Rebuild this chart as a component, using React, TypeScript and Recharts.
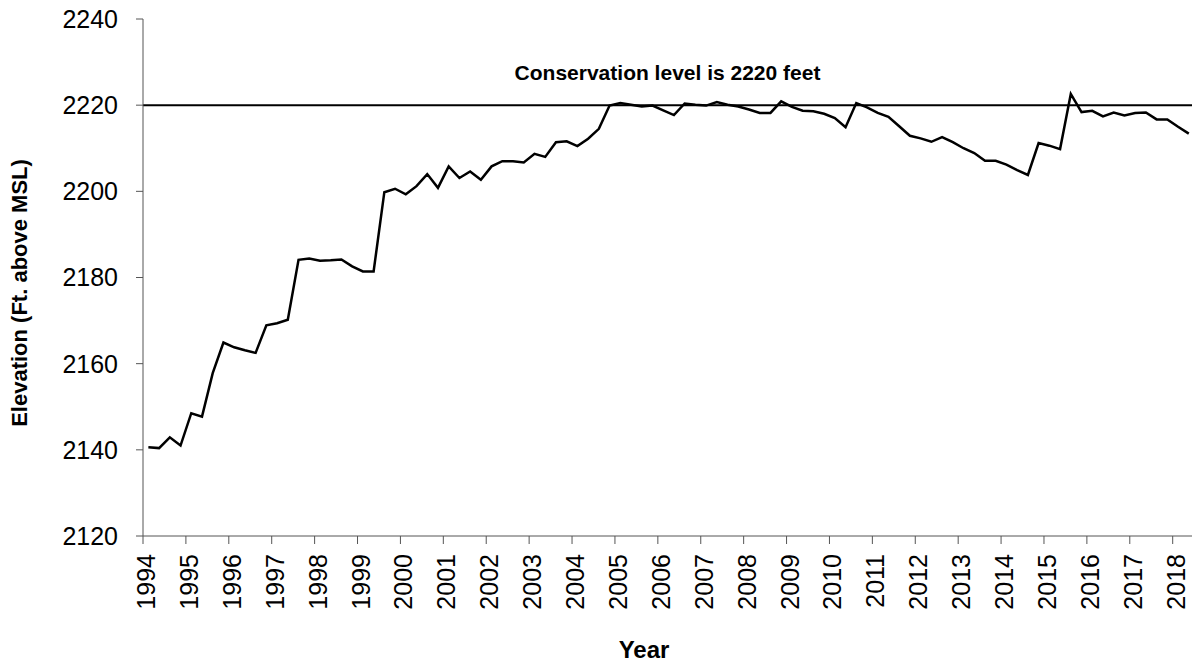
import { LineChart, Line, XAxis, YAxis, ReferenceLine, Label } from "recharts";

// quarterly readings (sample month), Feb 1994 .. May 2018
const sampleMonths = [
  "1994-02", "1994-05", "1994-08", "1994-11",
  "1995-02", "1995-05", "1995-08", "1995-11",
  "1996-02", "1996-05", "1996-08", "1996-11",
  "1997-02", "1997-05", "1997-08", "1997-11",
  "1998-02", "1998-05", "1998-08", "1998-11",
  "1999-02", "1999-05", "1999-08", "1999-11",
  "2000-02", "2000-05", "2000-08", "2000-11",
  "2001-02", "2001-05", "2001-08", "2001-11",
  "2002-02", "2002-05", "2002-08", "2002-11",
  "2003-02", "2003-05", "2003-08", "2003-11",
  "2004-02", "2004-05", "2004-08", "2004-11",
  "2005-02", "2005-05", "2005-08", "2005-11",
  "2006-02", "2006-05", "2006-08", "2006-11",
  "2007-02", "2007-05", "2007-08", "2007-11",
  "2008-02", "2008-05", "2008-08", "2008-11",
  "2009-02", "2009-05", "2009-08", "2009-11",
  "2010-02", "2010-05", "2010-08", "2010-11",
  "2011-02", "2011-05", "2011-08", "2011-11",
  "2012-02", "2012-05", "2012-08", "2012-11",
  "2013-02", "2013-05", "2013-08", "2013-11",
  "2014-02", "2014-05", "2014-08", "2014-11",
  "2015-02", "2015-05", "2015-08", "2015-11",
  "2016-02", "2016-05", "2016-08", "2016-11",
  "2017-02", "2017-05", "2017-08", "2017-11",
  "2018-02", "2018-05",
];

const elevation = [
  2140.6, 2140.4, 2142.9, 2141.0,
  2148.5, 2147.7, 2157.8, 2164.9,
  2163.8, 2163.1, 2162.5, 2168.9,
  2169.4, 2170.2, 2184.1, 2184.4,
  2183.9, 2184.0, 2184.2, 2182.6,
  2181.4, 2181.4, 2199.8, 2200.6,
  2199.3, 2201.2, 2204.0, 2200.8,
  2205.8, 2203.1, 2204.6, 2202.7,
  2205.8, 2207.0, 2207.0, 2206.7,
  2208.7, 2208.0, 2211.4, 2211.6,
  2210.5, 2212.2, 2214.5, 2219.9,
  2220.5, 2220.1, 2219.7, 2219.9,
  2218.8, 2217.7, 2220.4, 2220.1,
  2219.9, 2220.7, 2220.1, 2219.7,
  2219.0, 2218.2, 2218.2, 2220.9,
  2219.6, 2218.7, 2218.6, 2218.0,
  2217.0, 2214.9, 2220.5, 2219.5,
  2218.2, 2217.3, 2215.1, 2212.9,
  2212.3, 2211.5, 2212.6, 2211.4,
  2210.0, 2208.9, 2207.1, 2207.1,
  2206.2, 2204.9, 2203.8, 2211.2,
  2210.6, 2209.8, 2222.6, 2218.4,
  2218.7, 2217.4, 2218.3, 2217.6,
  2218.2, 2218.3, 2216.7, 2216.7,
  2215.0, 2213.4,
];

const yearTicks = [
  1994, 1995, 1996, 1997, 1998, 1999, 2000, 2001, 2002, 2003, 2004, 2005,
  2006, 2007, 2008, 2009, 2010, 2011, 2012, 2013, 2014, 2015, 2016, 2017, 2018,
];
const elevationTicks = [2120, 2140, 2160, 2180, 2200, 2220, 2240];
const conservationLevel = 2220;

const FONT = '"Liberation Sans", Arial, sans-serif';

// month string -> decimal year at mid-month
const toYear = (s: string) => {
  const [y, m] = s.split("-").map(Number);
  return y + (m - 0.5) / 12;
};

const data = sampleMonths.map((s, i) => ({ t: toYear(s), elev: elevation[i] }));

const YearTick = (props: any) => {
  const { x, y, payload } = props;
  return (
    <text
      transform={`translate(${x + 12}, ${y + 10}) rotate(-90)`}
      textAnchor="end"
      fontSize={25}
      fontFamily={FONT}
      fill="#000"
    >
      {payload.value}
    </text>
  );
};

export default function App() {
  return (
    <div style={{ position: "absolute", left: 0, top: 0 }}>
      <LineChart
        width={1196}
        height={664}
        data={data}
        margin={{ top: 19, right: 4, left: 0, bottom: 0 }}
      >
        <XAxis
          type="number"
          dataKey="t"
          domain={[1994, 2018.45]}
          ticks={yearTicks}
          interval={0}
          height={128}
          tickSize={8}
          tickMargin={0}
          tick={<YearTick />}
          stroke="#555"
          allowDataOverflow
        >
          <Label
            content={() => (
              <text
                x={644}
                y={658}
                textAnchor="middle"
                fontSize={24}
                fontWeight="bold"
                fontFamily={FONT}
                fill="#000"
              >
                Year
              </text>
            )}
          />
        </XAxis>
        <YAxis
          type="number"
          domain={[2120, 2240]}
          ticks={elevationTicks}
          interval={0}
          width={143}
          tickSize={7}
          tickMargin={18}
          stroke="#555"
          tick={{ fontSize: 25, fontFamily: FONT, fill: "#000" }}
        >
          <Label
            content={() => (
              <text
                transform="translate(27, 293) rotate(-90)"
                textAnchor="middle"
                fontSize={22}
                fontWeight="bold"
                fontFamily={FONT}
                fill="#000"
              >
                Elevation (Ft. above MSL)
              </text>
            )}
          />
        </YAxis>
        <ReferenceLine y={conservationLevel} stroke="#000" strokeWidth={2}>
          <Label
            position="top"
            offset={25}
            value="Conservation level is 2220 feet"
            fontSize={21}
            fontWeight="bold"
            fontFamily={FONT}
            fill="#000"
          />
        </ReferenceLine>
        <Line
          type="linear"
          dataKey="elev"
          stroke="#000"
          strokeWidth={2.5}
          dot={false}
          isAnimationActive={false}
        />
      </LineChart>
    </div>
  );
}
